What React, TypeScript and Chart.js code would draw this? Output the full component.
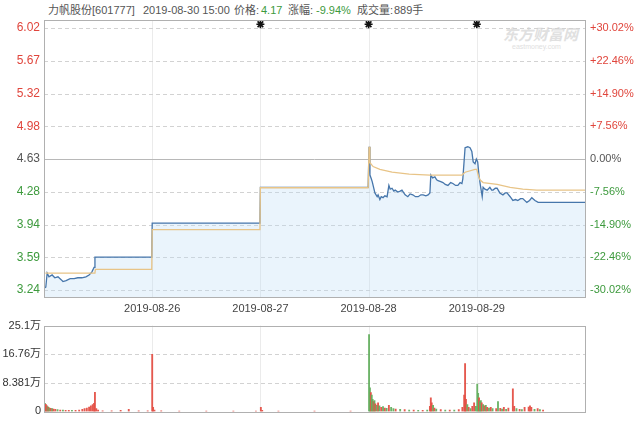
import React, { useEffect, useRef } from 'react';
import { Chart, registerables } from 'chart.js';
Chart.register(...registerables);

// ---- data ----
const dayBoundaries = [240, 480, 720, 960];
const dayLabels = ['2019-08-26', '2019-08-27', '2019-08-28', '2019-08-29'];
const markerMinutes = [480, 720, 960];
const markerValue = 6.06;

const priceTicks = [3.24, 3.5875, 3.935, 4.2825, 4.63, 4.9775, 5.325, 5.6725, 6.02];
const priceTickLabels = ['3.24', '3.59', '3.94', '4.28', '4.63', '4.98', '5.32', '5.67', '6.02'];
const pctTickLabels = ['-30.02%', '-22.46%', '-14.90%', '-7.56%', '0.00%', '+7.56%', '+14.90%', '+22.46%', '+30.02%'];
const preClose = 4.63;

const priceMinutes = [
  0, 4, 7, 11, 18, 24, 31, 38, 42, 49, 58, 67, 75, 84, 93, 100, 106, 111, 113, 239,
  240, 479, 480, 719,
  721, 723, 726, 728, 730, 734, 739, 741, 745, 748, 752, 756, 761, 765, 768, 772, 776, 779, 785, 790, 794, 801, 807, 812, 818, 824, 830, 836, 841,
  847, 852, 856, 858, 862, 867, 871, 874, 880, 885, 890, 896, 902, 907, 913, 918, 923, 927, 929, 934, 940, 945, 949, 952, 956, 959,
  962, 965, 968, 972, 974, 978, 983, 989, 993, 996, 1001, 1005, 1011, 1018, 1023, 1027, 1034, 1040, 1046, 1051, 1057, 1062, 1071, 1077, 1082, 1089, 1096, 1109, 1200,
];
const priceValues = [
  3.26, 3.27, 3.42, 3.38, 3.40, 3.37, 3.38, 3.35, 3.33, 3.34, 3.36, 3.36, 3.37, 3.37, 3.38, 3.40, 3.43, 3.48, 3.59, 3.59,
  3.95, 3.95, 4.33, 4.33,
  4.76, 4.46, 4.42, 4.39, 4.35, 4.27, 4.23, 4.25, 4.20, 4.23, 4.22, 4.24, 4.23, 4.35, 4.31, 4.32, 4.29, 4.30, 4.28, 4.29, 4.30, 4.25, 4.23, 4.26, 4.25, 4.23, 4.23, 4.25, 4.25,
  4.24, 4.25, 4.27, 4.46, 4.43, 4.44, 4.41, 4.40, 4.39, 4.38, 4.36, 4.35, 4.38, 4.37, 4.35, 4.35, 4.38, 4.37, 4.42, 4.75, 4.76, 4.75, 4.71, 4.60, 4.58, 4.63,
  4.60, 4.45, 4.35, 4.23, 4.33, 4.31, 4.30, 4.33, 4.30, 4.30, 4.32, 4.32, 4.27, 4.25, 4.27, 4.27, 4.23, 4.19, 4.20, 4.19, 4.21, 4.21, 4.17, 4.19, 4.22, 4.19, 4.17, 4.17, 4.17,
];

const avgMinutes = [3, 113, 114, 239, 240, 479, 480, 719, 721, 723, 730, 745, 772, 810, 856, 927, 934, 956, 960, 963, 967, 974, 1005, 1034, 1062, 1093, 1200];
const avgValues = [3.42, 3.42, 3.46, 3.46, 3.88, 3.88, 4.325, 4.325, 4.76, 4.59, 4.55, 4.52, 4.49, 4.47, 4.46, 4.46, 4.49, 4.52, 4.52, 4.46, 4.41, 4.38, 4.36, 4.33, 4.31, 4.30, 4.30];

const volTicks = [0, 8.381, 16.76, 25.14];
const volTickLabels = ['0', '8.381万', '16.76万', '25.1万'];

const volMinutes = [
  0, 2, 4, 6, 8, 10, 12, 15, 18, 21, 25, 30, 36, 42, 48, 55, 62, 70, 78, 85, 90, 95, 100, 104, 108, 111, 113, 116, 120, 130, 150, 170, 188, 210, 230,
  240, 242, 245, 260, 300, 360, 420, 470,
  481, 484, 520, 600, 680,
  721, 723, 725, 727, 729, 731, 733, 735, 738, 741, 744, 748, 752, 756, 760, 765, 770, 775, 780, 790, 800, 810, 820, 830, 840, 850,
  856, 858, 860, 863, 866, 870, 880, 890, 900, 910, 920, 928, 932, 934, 936, 939, 942, 946, 950, 954, 958,
  961, 963, 965, 967, 969, 971, 974, 977, 980, 983, 987, 991, 995, 1003, 1007, 1012, 1016, 1020, 1025, 1030, 1040, 1043, 1048, 1055, 1060, 1066, 1075, 1078, 1081, 1088, 1095, 1100, 1107,
];
const volValues = [
  2.6, 2.4, 2.1, 1.7, 1.4, 1.2, 1.0, 0.9, 0.8, 0.7, 0.6, 0.5, 0.4, 0.4, 0.3, 0.3, 0.3, 0.3, 0.4, 0.6, 0.8, 1.0, 1.3, 1.6, 2.0, 2.4, 5.6, 0.8, 0.4, 0.2, 0.2, 0.3, 0.6, 0.2, 0.2,
  16.7, 1.2, 0.4, 0.2, 0.1, 0.1, 0.1, 0.1,
  1.2, 0.3, 0.1, 0.1, 0.1,
  22.5, 6.9, 5.5, 4.8, 3.5, 2.9, 3.2, 2.2, 1.8, 2.5, 1.6, 1.2, 1.4, 1.0, 0.9, 1.8, 1.2, 0.8, 0.7, 0.6, 0.5, 0.4, 0.4, 0.3, 0.3, 0.4,
  1.5, 4.0, 2.5, 1.8, 1.0, 0.7, 0.5, 0.4, 0.4, 0.4, 0.5, 1.2, 4.8, 14.0, 3.5, 2.0, 1.2, 0.8, 1.5, 2.5, 1.5,
  8.0, 5.3, 4.0, 2.9, 3.2, 2.5, 2.0, 1.6, 1.8, 1.2, 1.0, 1.2, 0.8, 0.8, 2.9, 0.9, 0.7, 1.2, 0.6, 1.0, 6.6, 1.5, 0.8, 0.6, 0.5, 1.2, 1.3, 1.6, 1.2, 0.6, 0.8, 0.5, 0.4,
];
const volUp = [
  1, 0, 1, 1, 0, 1, 0, 1, 0, 1, 1, 0, 1, 0, 1, 1, 0, 1, 1, 1, 1, 1, 1, 1, 1, 1, 1, 1, 1, 1, 1, 1, 1, 1, 1,
  1, 1, 1, 1, 1, 1, 1, 1,
  1, 1, 1, 1, 1,
  0, 0, 1, 0, 0, 1, 0, 1, 0, 1, 0, 1, 0, 1, 0, 1, 0, 0, 1, 0, 1, 0, 1, 0, 1, 0,
  1, 1, 1, 0, 1, 0, 1, 0, 1, 0, 1, 1, 1, 1, 1, 0, 1, 0, 1, 1, 0,
  0, 0, 1, 0, 0, 1, 0, 1, 0, 1, 0, 1, 0, 1, 0, 1, 0, 1, 0, 1, 1, 1, 0, 1, 0, 1, 1, 1, 1, 0, 1, 0, 1,
];

const FONT = "'Liberation Sans', 'Noto Sans CJK SC', sans-serif";
const RED = '#e0453c';
const GREEN = '#3d9a3d';
const GREY = '#555';

function gridPlugin(hValues: number[], solidValue: number | null) {
  return {
    id: 'customGrid',
    beforeDatasetsDraw(chart: any) {
      const { ctx, chartArea: a, scales } = chart;
      ctx.save();
      ctx.lineWidth = 1;
      ctx.strokeStyle = '#ebebeb';
      for (const b of dayBoundaries) {
        const px = Math.round(scales.x.getPixelForValue(b)) + 0.5;
        ctx.beginPath();
        ctx.moveTo(px, a.top);
        ctx.lineTo(px, a.bottom);
        ctx.stroke();
      }
      for (const v of hValues) {
        const py = Math.round(scales.y.getPixelForValue(v)) + 0.5;
        if (solidValue !== null && Math.abs(v - solidValue) < 1e-6) {
          ctx.setLineDash([]);
          ctx.strokeStyle = '#b8b8b8';
        } else {
          ctx.setLineDash([4, 3]);
          ctx.strokeStyle = '#d2d2d2';
        }
        ctx.beginPath();
        ctx.moveTo(a.left, py);
        ctx.lineTo(a.right, py);
        ctx.stroke();
      }
      ctx.restore();
    },
    afterDraw(chart: any) {
      const { ctx, chartArea: a } = chart;
      ctx.save();
      ctx.strokeStyle = '#b0b0b0';
      ctx.lineWidth = 1;
      ctx.strokeRect(Math.round(a.left) + 0.5, Math.round(a.top) + 0.5, Math.round(a.right - a.left), Math.round(a.bottom - a.top));
      ctx.restore();
    },
  };
}

function tickColor(i: number) {
  if (i < 4) return GREEN;
  if (i === 4) return GREY;
  return RED;
}

export default function App() {
  const mainRef = useRef<HTMLCanvasElement>(null);
  const volRef = useRef<HTMLCanvasElement>(null);

  useEffect(() => {
    const pricePts = priceMinutes.map((m, i) => ({ x: m, y: priceValues[i] }));
    const avgPts = avgMinutes.map((m, i) => ({ x: m, y: avgValues[i] }));
    const markerPts = markerMinutes.map((m) => ({ x: m, y: markerValue }));

    const yCommon = {
      type: 'linear' as const,
      min: 3.166,
      max: 6.105,
      grid: { display: false, drawTicks: false },
      border: { display: false },
      afterBuildTicks: (s: any) => {
        s.ticks = priceTicks.map((v) => ({ value: v }));
      },
    };

    const main = new Chart(mainRef.current!, {
      type: 'line',
      data: {
        datasets: [
          {
            data: markerPts,
            showLine: false,
            pointStyle: 'star',
            pointRadius: 4,
            borderColor: '#111',
            backgroundColor: '#111',
            borderWidth: 1.6,
          } as any,
          {
            data: avgPts,
            borderColor: '#e8c487',
            borderWidth: 1.3,
            pointRadius: 0,
            tension: 0,
            fill: false,
          },
          {
            data: pricePts,
            borderColor: '#4676ab',
            borderWidth: 1.3,
            pointRadius: 0,
            tension: 0,
            fill: 'start',
            backgroundColor: 'rgba(190,222,246,0.32)',
          },
        ],
      },
      options: {
        animation: false,
        responsive: false,
        events: [],
        layout: { padding: { top: 20, left: 0, right: 0, bottom: 0 } },
        plugins: { legend: { display: false }, tooltip: { enabled: false } },
        scales: {
          x: {
            type: 'linear',
            min: 0,
            max: 1200,
            grid: { display: false, drawTicks: false },
            border: { display: false },
            afterBuildTicks: (s: any) => {
              s.ticks = dayBoundaries.map((v) => ({ value: v }));
            },
            afterFit: (s: any) => {
              s.height = 19;
            },
            ticks: {
              autoSkip: false,
              maxRotation: 0,
              padding: 5,
              color: '#444',
              font: { family: FONT, size: 11 },
              callback: (_v: any, i: number) => dayLabels[i],
            },
          },
          y: {
            ...yCommon,
            position: 'left',
            afterFit: (s: any) => {
              s.width = 44;
            },
            ticks: {
              padding: 4,
              font: { family: FONT, size: 12 },
              color: (c: any) => tickColor(c.index),
              callback: (_v: any, i: number) => priceTickLabels[i],
            },
          },
          y2: {
            ...yCommon,
            position: 'right',
            afterFit: (s: any) => {
              s.width = 55;
            },
            ticks: {
              padding: 5,
              font: { family: FONT, size: 11 },
              color: (c: any) => tickColor(c.index),
              callback: (_v: any, i: number) => pctTickLabels[i],
            },
          },
        },
      },
      plugins: [gridPlugin(priceTicks, preClose)],
    });

    const volData = volMinutes.map((m, i) => ({ x: m, y: volValues[i] }));
    const volColors = volUp.map((u) => (u ? 'rgba(228,80,70,0.95)' : 'rgba(100,175,95,0.95)'));

    const vol = new Chart(volRef.current!, {
      type: 'bar',
      data: {
        datasets: [
          {
            data: volData,
            backgroundColor: volColors,
            borderWidth: 0,
            barThickness: 1.2,
          } as any,
        ],
      },
      options: {
        animation: false,
        responsive: false,
        events: [],
        layout: { padding: { top: 2, left: 0, right: 55, bottom: 8 } },
        plugins: { legend: { display: false }, tooltip: { enabled: false } },
        scales: {
          x: {
            type: 'linear',
            min: 0,
            max: 1200,
            display: false,
            offset: false,
          },
          y: {
            type: 'linear',
            min: 0,
            max: 25.14,
            position: 'left',
            grid: { display: false, drawTicks: false },
            border: { display: false },
            afterBuildTicks: (s: any) => {
              s.ticks = volTicks.map((v) => ({ value: v }));
            },
            afterFit: (s: any) => {
              s.width = 44;
            },
            ticks: {
              padding: 3,
              color: '#333',
              font: { family: FONT, size: 11 },
              callback: (_v: any, i: number) => volTickLabels[i],
            },
          },
        },
      },
      plugins: [gridPlugin([8.381, 16.76], null)],
    });

    return () => {
      main.destroy();
      vol.destroy();
    };
  }, []);

  const hs = { position: 'absolute' as const, top: 3, fontSize: 11, color: '#555', whiteSpace: 'nowrap' as const, lineHeight: '14px' };

  return (
    <div style={{ position: 'fixed', left: 0, top: 0, width: 640, height: 421, background: '#fff', overflow: 'hidden', fontFamily: FONT }}>
      <span style={{ ...hs, left: 48 }}>力帆股份[601777]</span>
      <span style={{ ...hs, left: 143 }}>2019-08-30 15:00</span>
      <span style={{ ...hs, left: 234 }}>价格:</span>
      <span style={{ ...hs, left: 261, color: GREEN }}>4.17</span>
      <span style={{ ...hs, left: 288 }}>涨幅:</span>
      <span style={{ ...hs, left: 316, color: GREEN }}>-9.94%</span>
      <span style={{ ...hs, left: 357 }}>成交量:</span>
      <span style={{ ...hs, left: 394 }}>889手</span>
      <div style={{ position: 'absolute', left: 503, top: 27, fontSize: 15, fontWeight: 700, fontStyle: 'italic', color: '#e0e0e0', whiteSpace: 'nowrap', lineHeight: '16px' }}>东方财富网</div>
      <div style={{ position: 'absolute', left: 512, top: 43, fontSize: 7, color: '#e0e0e0', whiteSpace: 'nowrap', lineHeight: '8px' }}>eastmoney.com</div>
      <canvas ref={mainRef} width={640} height={316} style={{ position: 'absolute', left: 0, top: 0 }} />
      <canvas ref={volRef} width={640} height={105} style={{ position: 'absolute', left: 0, top: 316 }} />
    </div>
  );
}
